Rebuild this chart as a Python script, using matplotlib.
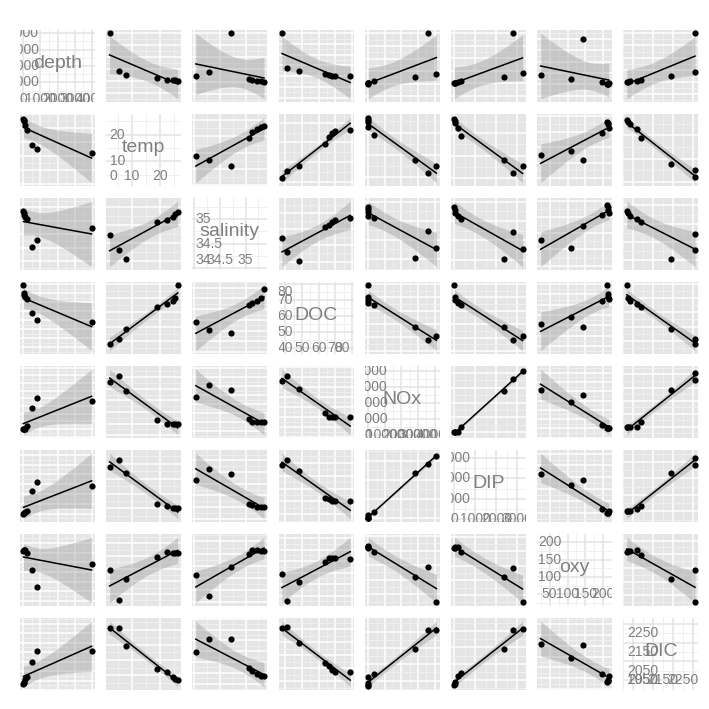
import numpy as np
import matplotlib.pyplot as plt

plt.rcParams['font.family'] = ['Liberation Sans', 'DejaVu Sans']

# ocean profile, one value per sampled depth
names = ["depth", "temp", "salinity", "DOC", "NOx", "DIP", "oxy", "DIC"]
depth = [0, 25, 50, 100, 200, 500, 800, 4000]
temp = [26.5, 25.6, 24.8, 22.5, 18.9, 7.8, 5.2, 2.0]
salinity = [35.36, 35.30, 35.22, 35.12, 35.06, 34.03, 34.29, 34.72]
doc = [79, 70, 68, 66, 64, 48, 41, 38]
nox = [0, 2, 5, 60, 3500, 28000, 41000, 36000]
dip = [0, 10, 30, 150, 300, 2350, 3250, 2800]
oxy = [210, 212, 213, 215, 196, 110, 25, 143]
dic = [1967, 1974, 1984, 2020, 2040, 2191, 2312, 2310]

tick_values = [
    [0, 1000, 2000, 3000, 4000],
    [0, 10, 20],
    [34, 34.5, 35],
    [40, 50, 60, 70, 80],
    [0, 10000, 20000, 30000, 40000],
    [0, 1000, 2000, 3000],
    [50, 100, 150, 200],
    [1950, 2050, 2150, 2250],
]

columns = [np.array(v, dtype=float) for v in
           (depth, temp, salinity, doc, nox, dip, oxy, dic)]
T975 = 2.4469  # 95% t quantile for n - 2 = 6 degrees of freedom

W = H = 709
TXT = '#7F7F7F'


def fmt(v):
    return ('%g' % v)


def expand(v):
    lo, hi = v.min(), v.max()
    r = hi - lo
    return lo - 0.05 * r, hi + 0.05 * r


def draw_grid(ax, ticks, lims, axis, major_c, minor_c):
    step = ticks[1] - ticks[0]
    lo, hi = lims
    k0 = np.floor(lo / step) - 1
    k1 = np.ceil(hi / step) + 1
    major = np.arange(k0, k1 + 1) * step
    minor = major + step / 2
    for vals, col, lw in ((minor, minor_c, 0.6), (major, major_c, 1.1)):
        for v in vals:
            if lo < v < hi:
                if axis == 'x':
                    ax.axvline(v, color=col, lw=lw, zorder=0)
                else:
                    ax.axhline(v, color=col, lw=lw, zorder=0)


fig = plt.figure(figsize=(W / 100, H / 100), dpi=100)

for r in range(8):
    for c in range(8):
        left = (20 + 86.2 * c) / W
        bottom = 1 - (30 + 84 * r + 72) / H
        ax = fig.add_axes([left, bottom, 75 / W, 72 / H])
        ax.set_xticks([])
        ax.set_yticks([])
        for s in ax.spines.values():
            s.set_visible(False)
        x = columns[c]
        y = columns[r]

        if r == c:
            ax.set_facecolor('white')
            lims = expand(x)
            ax.set_xlim(lims)
            ax.set_ylim(lims)
            ticks = tick_values[c]
            draw_grid(ax, ticks, lims, 'x', '#E3E3E3', '#EEEEEE')
            draw_grid(ax, ticks, lims, 'y', '#E3E3E3', '#EEEEEE')
            lo, hi = x.min(), x.max()
            first = ticks[0]
            # y labels sit on the first break, or at the data minimum
            if first < lo:
                ypos_x, ha_y = lo, 'left'
                xpos_y, va_x = lo, 'bottom'
            else:
                ypos_x, ha_y = first, 'center'
                xpos_y, va_x = first, 'center'
            for t in ticks[1:]:
                ty, va = t, 'center'
                if t > hi:
                    ty, va = hi, 'top'
                ax.text(ypos_x, ty, fmt(t), ha=ha_y, va=va, fontsize=10,
                        color=TXT, clip_on=True)
            for t in ticks:
                tx, ha = t, 'center'
                if t < lo:
                    tx, ha = lo, 'left'
                elif t > hi:
                    tx, ha = hi, 'right'
                ax.text(tx, xpos_y, fmt(t), ha=ha, va=va_x, fontsize=10,
                        color=TXT, clip_on=True)
            ax.text(0.5, 0.53, names[c], transform=ax.transAxes, ha='center',
                    va='center', fontsize=14, color=TXT)
            continue

        ax.set_facecolor('#E5E5E5')
        b, a = np.polyfit(x, y, 1)
        xs = np.linspace(x.min(), x.max(), 80)
        n = len(x)
        resid = y - (a + b * x)
        s = np.sqrt(np.sum(resid ** 2) / (n - 2))
        sxx = np.sum((x - x.mean()) ** 2)
        se = s * np.sqrt(1 / n + (xs - x.mean()) ** 2 / sxx)
        fit = a + b * xs
        ax.fill_between(xs, fit - T975 * se, fit + T975 * se,
                        color='#999999', alpha=0.4, lw=0, zorder=1)
        ax.plot(xs, fit, color='black', lw=1.1, zorder=2)
        ax.scatter(x, y, s=20, color='black', zorder=3, linewidths=0)

        ax.set_xlim(expand(x))
        ax.margins(y=0.05)
        ax.autoscale_view(scalex=False)
        ylims = ax.get_ylim()
        ax.set_ylim(ylims)
        draw_grid(ax, tick_values[c], ax.get_xlim(), 'x', 'white', '#F2F2F2')
        draw_grid(ax, tick_values[r], ylims, 'y', 'white', '#F2F2F2')

fig.savefig('out.png', dpi=100, facecolor='white')
